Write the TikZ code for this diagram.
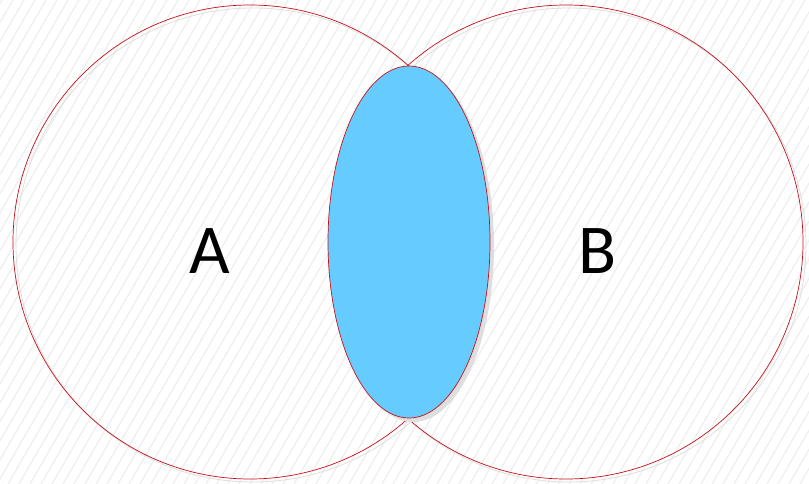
\documentclass[tikz,border=0pt]{standalone}
\usepackage{fontspec}
\setmainfont{Carlito}
\usepackage{tikz}
\usetikzlibrary{shapes.geometric, shadows}

\definecolor{rojoborde}{RGB}{200,16,26}
\definecolor{azulinter}{RGB}{102,204,255}
\definecolor{grissombra}{RGB}{222,222,222}
\definecolor{grisraya}{RGB}{238,238,238}

\begin{document}
\begin{tikzpicture}[x=1pt, y=-1pt,
        conjunto/.style={circle, draw=rojoborde, line width=0.7pt, inner sep=0pt, minimum size=474pt},
        sombracirc/.style={circle, draw=grissombra, line width=0.8pt, inner sep=0pt, minimum size=474pt},
        interseccion/.style={ellipse, draw=rojoborde, line width=0.7pt, fill=azulinter, inner sep=0pt,
            minimum width=162pt, minimum height=352pt,
            drop shadow={shadow xshift=4pt, shadow yshift=-4pt, fill=grissombra, opacity=1}},
        etiqueta/.style={font=\fontsize{70}{70}\selectfont, inner sep=0pt, anchor=base}]
        \useasboundingbox (0,0) rectangle (809,484);
        \fill[white] (0,0) rectangle (809,484);
        % fondo rayado
        \begin{scope}
            \clip (0,0) rectangle (809,484);
            \foreach \x in {-300,-289,...,820}
                \draw[grisraya, line width=1.2pt] (\x,484) -- ({\x+280},0);
        \end{scope}
        \node[sombracirc] (sA) at (253,245) {};
        \node[sombracirc] (sB) at (569,245) {};
        \node[conjunto] (cA) at (250,242) {};
        \node[conjunto] (cB) at (566,242) {};
        \node[interseccion] (inter) at (409,242) {};
        \node[etiqueta] (lA) at (210,273) {A};
        \node[etiqueta] (lB) at (598,273) {B};
    \end{tikzpicture}
\end{document}
